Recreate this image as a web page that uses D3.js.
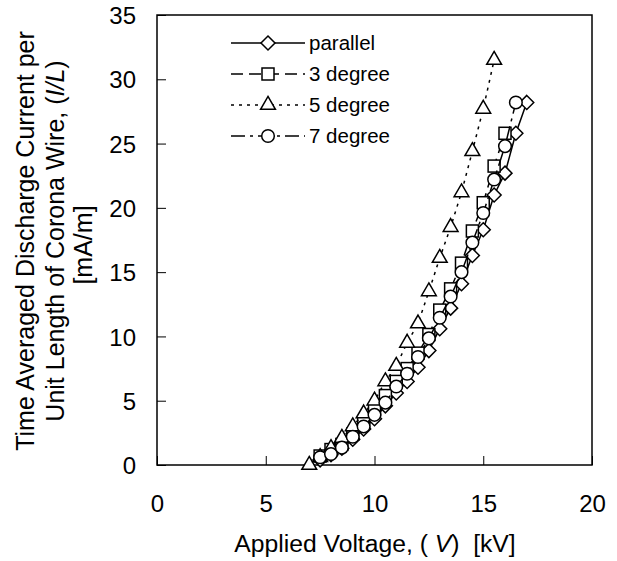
<!DOCTYPE html>
<html><head><meta charset="utf-8">
<script src="https://cdn.jsdelivr.net/npm/d3@7"></script>
<style>
body{margin:0;background:#fff}
text{font-family:"Liberation Sans",Arial,"Noto Sans CJK JP",sans-serif;fill:#000}
</style>
</head><body><svg id="c" width="617" height="561"></svg>
<script>
// ---- data ----
const seriesNames = ["parallel", "3 degree", "5 degree", "7 degree"];
const voltParallel = [7.5,8,8.5,9,9.5,10,10.5,11,11.5,12,12.5,13,13.5,14,14.5,15,15.5,16,16.5,17];
const currParallel = [0.4,0.8,1.3,2.0,2.8,3.6,4.6,5.6,6.5,7.6,8.9,10.6,12.2,14.1,16.3,18.3,21.0,22.7,25.8,28.2];
const volt3deg = [7.5,8,8.5,9,9.5,10,10.5,11,11.5,12,12.5,13,13.5,14,14.5,15,15.5,16];
const curr3deg = [0.7,1.2,1.6,2.4,3.3,4.3,5.4,6.5,7.5,8.7,10.15,12.05,13.7,15.7,18.2,20.4,23.25,25.8];
const volt5deg = [7,7.5,8,8.5,9,9.5,10,10.5,11,11.5,12,12.5,13,13.5,14,14.5,15,15.5];
const curr5deg = [0,0.6,1.3,2.1,3.0,4.0,5.0,6.5,7.7,9.5,11.0,13.5,16.1,18.5,21.2,24.4,27.7,31.5];
const volt7deg = [7.5,8,8.5,9,9.5,10,10.5,11,11.5,12,12.5,13,13.5,14,14.5,15,15.5,16,16.5];
const curr7deg = [0.6,0.85,1.35,2.2,3.0,3.9,4.85,6.1,7.1,8.4,9.85,11.45,13.1,15.0,17.3,19.6,22.2,24.8,28.2];
const xTicks = [0,5,10,15,20];
const yTicks = [0,5,10,15,20,25,30,35];

// ---- setup ----
const svg = d3.select('#c');
const x = d3.scaleLinear().domain([0,20]).range([157,592]);
const y = d3.scaleLinear().domain([0,35]).range([465,15]);

const series = [
  {name: seriesNames[0], v: voltParallel, c: currParallel, dash: null, sym: 'diamond'},
  {name: seriesNames[1], v: volt3deg, c: curr3deg, dash: '12,6', sym: 'square'},
  {name: seriesNames[2], v: volt5deg, c: curr5deg, dash: '3,5', sym: 'triangle'},
  {name: seriesNames[3], v: volt7deg, c: curr7deg, dash: '14,5,3,5', sym: 'circle'}
];

function marker(g, type, cx, cy) {
  let el;
  if (type === 'diamond') {
    const s = 7;
    el = g.append('path').attr('d', `M${cx},${cy-s}L${cx+s},${cy}L${cx},${cy+s}L${cx-s},${cy}Z`);
  } else if (type === 'square') {
    const s = 6;
    el = g.append('rect').attr('x', cx-s).attr('y', cy-s).attr('width', 2*s).attr('height', 2*s);
  } else if (type === 'triangle') {
    el = g.append('path').attr('d', d3.symbol().type(d3.symbolTriangle).size(95)()).attr('transform', `translate(${cx},${cy})`);
  } else {
    el = g.append('circle').attr('cx', cx).attr('cy', cy).attr('r', 6.3);
  }
  el.attr('fill', '#fff').attr('stroke', '#000').attr('stroke-width', 1.5);
}

// frame
svg.append('rect').attr('x', 157).attr('y', 15).attr('width', 435).attr('height', 450)
  .attr('fill', 'none').attr('stroke', '#000').attr('stroke-width', 1.5);

// axes
const xa = svg.append('g').attr('transform', 'translate(0,465)')
  .call(d3.axisBottom(x).tickValues(xTicks).tickSize(-9).tickPadding(30).tickFormat(d3.format('d')));
const ya = svg.append('g').attr('transform', 'translate(157,0)')
  .call(d3.axisLeft(y).tickValues(yTicks).tickSize(-9).tickPadding(21).tickFormat(d3.format('d')));
[xa, ya].forEach(a => {
  a.select('.domain').remove();
  a.selectAll('.tick line').attr('stroke', '#000').attr('stroke-width', 1);
  a.selectAll('.tick text').attr('font-size', 24).attr('font-family', '"Liberation Sans",Arial,sans-serif');
});
ya.selectAll('.tick text').attr('dy', '0.36em');

// series
const line = d3.line().x(d => x(d[0])).y(d => y(d[1]));
series.forEach(s => {
  const g = svg.append('g');
  const pts = s.v.map((v, i) => [v, s.c[i]]);
  g.append('path').attr('d', line(pts)).attr('fill', 'none').attr('stroke', '#000')
    .attr('stroke-width', 1.5).attr('stroke-dasharray', s.dash);
  pts.forEach(p => marker(g, s.sym, x(p[0]), y(p[1])));
});

// legend
series.forEach((s, i) => {
  const ly = 43 + i * 31;
  const g = svg.append('g');
  g.append('line').attr('x1', 231).attr('x2', 305).attr('y1', ly).attr('y2', ly)
    .attr('stroke', '#000').attr('stroke-width', 1.5).attr('stroke-dasharray', s.dash);
  marker(g, s.sym, 268, ly);
  g.append('text').attr('x', 309).attr('y', ly).attr('dy', '0.36em').attr('font-size', 20.5).text(s.name);
});

// x title
const xt = svg.append('text').attr('x', 375).attr('y', 552).attr('text-anchor', 'middle').attr('font-size', 24.7)
  .attr('xml:space', 'preserve').style('white-space', 'pre');
xt.append('tspan').text('Applied Voltage, ( ');
xt.append('tspan').attr('font-style', 'italic').text('V');
xt.append('tspan').text(')  [kV]');

// y title
const yt = svg.append('g').attr('transform', 'translate(0,241) rotate(-90)');
yt.append('text').attr('x', 0).attr('y', 25).attr('dy', '0.36em').attr('text-anchor', 'middle').attr('font-size', 25)
  .text('Time Averaged Discharge Current per');
const t2 = yt.append('text').attr('x', 0).attr('y', 55).attr('dy', '0.36em').attr('text-anchor', 'middle').attr('font-size', 25);
t2.append('tspan').text('Unit Length of Corona Wire, (');
t2.append('tspan').attr('font-style', 'italic').text('I/L');
t2.append('tspan').text(')');
yt.append('text').attr('x', -4).attr('y', 83).attr('dy', '0.36em').attr('text-anchor', 'middle').attr('font-size', 25)
  .text('[mA/m]');
</script>
</body></html>
